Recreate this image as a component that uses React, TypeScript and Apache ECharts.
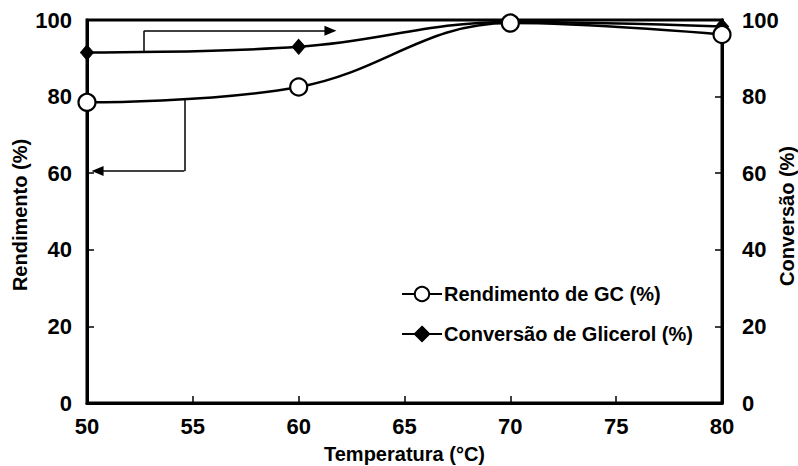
import React, { useEffect, useRef } from "react";
import * as echarts from "echarts";

const temperatures = [50, 60, 70, 80];
const rendimento = [78.5, 82.5, 99.2, 96.2];
const conversao = [91.5, 93.0, 99.5, 98.3];
const xTicks = { min: 50, max: 80, interval: 5 };
const yTicks = { min: 0, max: 100, interval: 20 };

// annotation arrows (data coordinates)
const convArrow = { x: 52.7, yFrom: 91.7, yTo: 97.2, xTo: 61.5 };
const rendArrow = { x: 54.6, yFrom: 79.4, yTo: 60.6, xTo: 50.5 };

const FONT = "Arial, 'Liberation Sans', Helvetica, sans-serif";

export default function App() {
  const ref = useRef<HTMLDivElement>(null);
  useEffect(() => {
    if (!ref.current) return;
    const chart = echarts.init(ref.current, undefined, { renderer: "svg" });
    const axisLabel = { color: "#000", fontFamily: FONT, fontWeight: "bold" as const, fontSize: 22 };
    const arrowLine = (a: typeof convArrow) => ({
      silent: true,
      symbol: ["none", "none"],
      label: { show: false },
      lineStyle: { color: "#000", width: 1.5, type: "solid" as const },
      emphasis: { disabled: true },
      data: [
        [
          { coord: [a.x, a.yFrom], symbol: "none" },
          { coord: [a.x, a.yTo], symbol: "none" },
        ],
        [
          { coord: [a.x, a.yTo], symbol: "none" },
          { coord: [a.xTo, a.yTo], symbol: "triangle", symbolSize: [10, 12] },
        ],
      ],
    });
    chart.setOption({
      animation: false,
      grid: {
        left: 87,
        right: 76,
        top: 20,
        bottom: 63,
        show: true,
        borderColor: "#000",
        borderWidth: 3,
        containLabel: false,
        outerBoundsMode: "none",
      },
      xAxis: {
        type: "value",
        min: xTicks.min,
        max: xTicks.max,
        interval: xTicks.interval,
        axisLine: { lineStyle: { color: "#000", width: 3 } },
        axisTick: { inside: true, length: 7, lineStyle: { color: "#000", width: 1.5 } },
        axisLabel: { ...axisLabel, margin: 12 },
        splitLine: { show: false },
        name: "Temperatura (°C)",
        nameLocation: "middle",
        nameGap: 41,
        nameTextStyle: { color: "#000", fontFamily: FONT, fontWeight: "bold", fontSize: 20 },
      },
      yAxis: [
        {
          type: "value",
          min: yTicks.min,
          max: yTicks.max,
          interval: yTicks.interval,
          axisLine: { show: true, lineStyle: { color: "#000", width: 3 } },
          axisTick: { show: true, inside: true, length: 7, lineStyle: { color: "#000", width: 1.5 } },
          axisLabel: { ...axisLabel, margin: 15 },
          splitLine: { show: false },
        },
        {
          type: "value",
          position: "right",
          min: yTicks.min,
          max: yTicks.max,
          interval: yTicks.interval,
          axisLine: { show: true, lineStyle: { color: "#000", width: 3 } },
          axisTick: { show: true, inside: true, length: 7, lineStyle: { color: "#000", width: 1.5 } },
          axisLabel: { ...axisLabel, margin: 20 },
          splitLine: { show: false },
        },
      ],
      legend: {
        orient: "vertical",
        left: 396,
        top: 279,
        itemWidth: 40,
        itemHeight: 18,
        itemGap: 20,
        textStyle: { color: "#000", fontFamily: FONT, fontWeight: "bold", fontSize: 20, padding: [0, 0, 0, -3] },
        data: ["Rendimento de GC (%)", "Conversão de Glicerol (%)"],
      },
      graphic: [
        {
          type: "text",
          x: 20,
          y: 215,
          rotation: Math.PI / 2,
          style: { text: "Rendimento (%)", fill: "#000", font: `bold 20px ${FONT}`, align: "center", verticalAlign: "middle" },
        },
        {
          type: "text",
          x: 787,
          y: 216,
          rotation: Math.PI / 2,
          style: { text: "Conversão (%)", fill: "#000", font: `bold 20px ${FONT}`, align: "center", verticalAlign: "middle" },
        },
      ],
      series: [
        {
          name: "Rendimento de GC (%)",
          type: "line",
          yAxisIndex: 0,
          smooth: 0.4,
          data: temperatures.map((t, i) => [t, rendimento[i]]),
          symbol: "circle",
          symbolSize: 17,
          itemStyle: { color: "#fff", borderColor: "#000", borderWidth: 2.2 },
          lineStyle: { color: "#000", width: 2.5 },
          z: 3,
          markLine: arrowLine(rendArrow),
        },
        {
          name: "Conversão de Glicerol (%)",
          type: "line",
          yAxisIndex: 1,
          smooth: 0.4,
          data: temperatures.map((t, i) => [t, conversao[i]]),
          symbol: "diamond",
          symbolSize: [13, 15],
          itemStyle: { color: "#000", borderColor: "#000", borderWidth: 1 },
          lineStyle: { color: "#000", width: 2.5 },
          z: 2,
          markLine: arrowLine(convArrow),
        },
      ],
    });
    return () => chart.dispose();
  }, []);
  return <div ref={ref} style={{ width: 798, height: 466, position: "absolute", left: 0, top: 0, background: "#fff" }} />;
}
